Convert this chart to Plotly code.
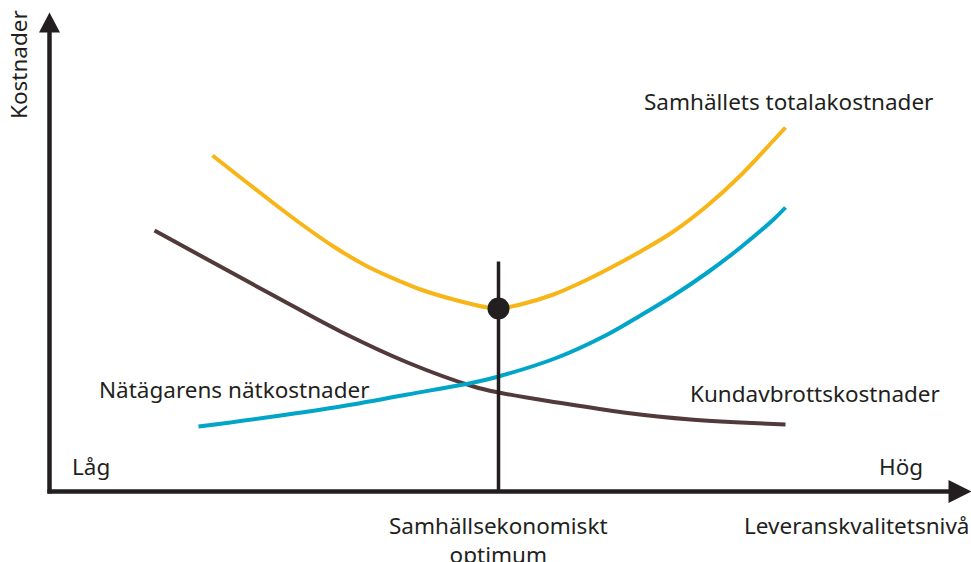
import plotly.graph_objects as go

# Conceptual diagram data (x: leveranskvalitet, y: kostnader), origin at the axis corner
total_x = [163, 218, 251, 284, 318, 351, 371, 404, 438, 449, 471, 504, 538, 571, 591, 624, 658, 691, 724, 736]
total_y = [336, 293, 268, 245, 225, 210, 202, 192, 184, 183, 187, 197, 212, 229, 240, 260, 286, 316, 351, 364]

natagare_x = [105, 158, 224, 291, 358, 424, 449, 508, 574, 641, 736]
natagare_y = [261, 232, 196, 160, 129, 105, 99, 89, 79, 72, 67]

kund_x = [149, 224, 291, 358, 424, 449, 508, 558, 591, 624, 658, 691, 724, 736]
kund_y = [65, 75, 85, 97, 109, 115, 134, 157, 176, 196, 219, 244, 272, 284]

optimum_x = 449
optimum_y = 183
optimum_line_top = 230

x_axis_end = 922
y_axis_end = 479

INK = "#231F20"
YELLOW = "#F8B518"
BLUE = "#00A5C8"
BROWN = "#523A3A"
FONT = "Noto Sans"
FS = 22.5

fig = go.Figure()
for xs, ys, col in [(total_x, total_y, YELLOW), (natagare_x, natagare_y, BROWN), (kund_x, kund_y, BLUE)]:
    fig.add_trace(go.Scatter(x=xs, y=ys, mode="lines",
                             line=dict(color=col, width=4, shape="spline", smoothing=1.0),
                             hoverinfo="skip"))
# optimum vertical line and point
fig.add_trace(go.Scatter(x=[optimum_x, optimum_x], y=[0, optimum_line_top], mode="lines",
                         line=dict(color=INK, width=3.5), hoverinfo="skip"))
fig.add_trace(go.Scatter(x=[optimum_x], y=[optimum_y], mode="markers",
                         marker=dict(color=INK, size=22), hoverinfo="skip"))

# axes with arrowheads
fig.add_shape(type="line", x0=0, y0=-2, x1=0, y1=y_axis_end - 19, line=dict(color=INK, width=4.5))
fig.add_shape(type="line", x0=-2, y0=0, x1=x_axis_end - 22, y1=0, line=dict(color=INK, width=4.5))
fig.add_shape(type="path",
              path=f"M -10.5 {y_axis_end-20} L 10.5 {y_axis_end-20} L 0 {y_axis_end} Z",
              fillcolor=INK, line=dict(width=0))
fig.add_shape(type="path",
              path=f"M {x_axis_end-23} 11.5 L {x_axis_end-23} -11.5 L {x_axis_end} 0 Z",
              fillcolor=INK, line=dict(width=0))

def label(text, x, y, xanchor="left", angle=0):
    fig.add_annotation(x=x, y=y, text=text, showarrow=False, xanchor=xanchor, yanchor="middle",
                       textangle=angle, font=dict(family=FONT, size=FS, color=INK))

label("Kostnader", -31, 427, xanchor="center", angle=-90)
label("Samhällets totalakostnader", 592, 390)
label("Nätägarens nätkostnader", 47, 102)
label("Kundavbrottskostnader", 638, 98)
label("Låg", 20, 25)
label("Hög", 827, 25)
label("Samhällsekonomiskt<br>optimum", optimum_x, -48, xanchor="center")
label("Leveranskvalitetsnivå", 921, -34, xanchor="right")

fig.update_layout(
    width=971, height=562,
    margin=dict(l=0, r=0, t=0, b=0),
    paper_bgcolor="white", plot_bgcolor="white",
    showlegend=False,
    xaxis=dict(range=[-49.5, 921.5], visible=False, fixedrange=True),
    yaxis=dict(range=[-70.5, 491.5], visible=False, fixedrange=True),
)
fig.write_html("out.html", config={"displayModeBar": False},
               post_script="document.body.style.margin='0';document.body.style.overflow='hidden';")
